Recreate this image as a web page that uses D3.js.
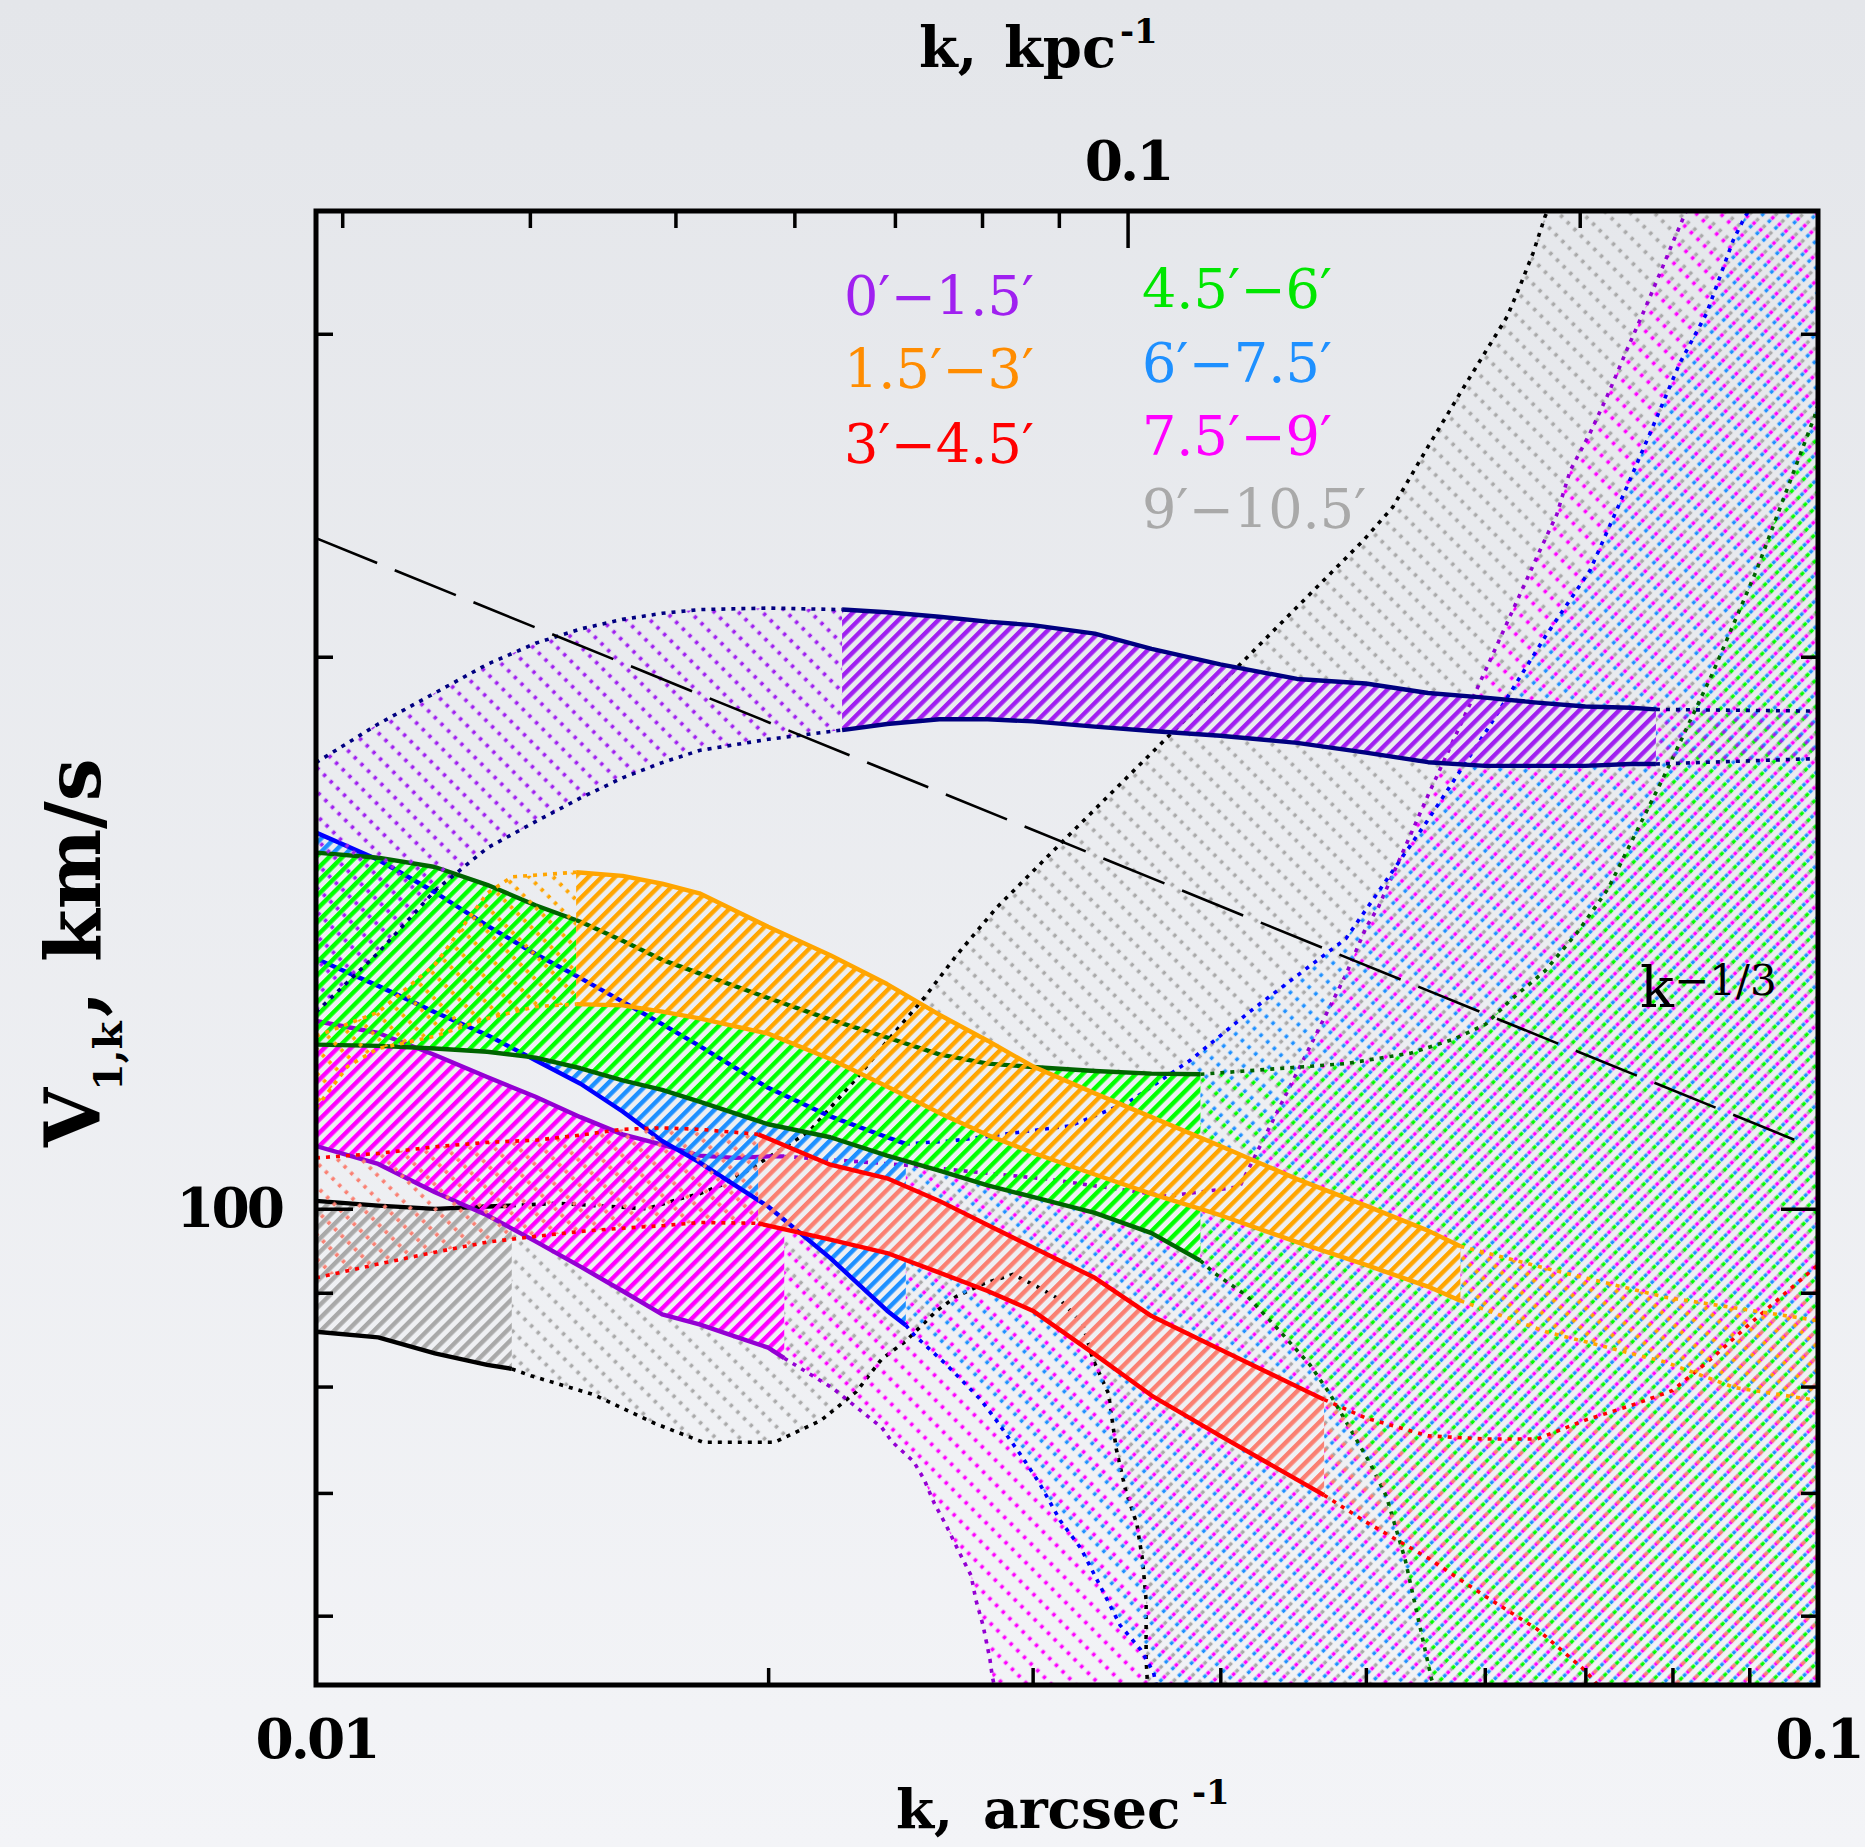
<!DOCTYPE html>
<html>
<head>
<meta charset="utf-8">
<script src="https://cdn.jsdelivr.net/npm/d3@7"></script>
<style>
  html, body { margin: 0; padding: 0; background: #eceef1; }
  svg { display: block; }
</style>
</head>
<body>
<svg id="chart" width="1865" height="1847"></svg>
<script>
// ---- data: V(k) bands per annulus, k in arcsec^-1, V in km/s ----
const bandNames = ['0′−1.5′', '1.5′−3′', '3′−4.5′', '4.5′−6′', '6′−7.5′', '7.5′−9′', '9′−10.5′'];

// 0'-1.5'
const purpleK  = [0.0224, 0.024, 0.026, 0.028, 0.03, 0.033, 0.036, 0.04, 0.045, 0.05, 0.055, 0.06, 0.065, 0.07, 0.075, 0.078];
const purpleHi = [212.2, 211.5, 210.3, 209.0, 208.1, 205.9, 202.0, 198.1, 194.5, 193.4, 191.1, 190.0, 188.8, 187.9, 187.6, 187.2];
const purpleLo = [182.4, 183.8, 184.9, 184.9, 184.4, 183.2, 182.2, 181.1, 179.5, 177.3, 175.2, 174.4, 174.4, 174.4, 174.8, 174.8];
const purpleLeftK  = [0.01, 0.011, 0.012, 0.013, 0.014, 0.015, 0.016, 0.017, 0.018, 0.02, 0.0224];
const purpleLeftHi = [175.1, 183.8, 191.1, 198.1, 203.4, 207.1, 209.6, 211.2, 212.2, 212.6, 212.2];
const purpleLeftLo = [128.0, 137.9, 149.1, 157.3, 162.6, 167.5, 171.8, 175.1, 177.8, 180.3, 182.4];
const purpleRightK  = [0.078, 0.1];
const purpleRightHi = [187.2, 186.8];
const purpleRightLo = [174.8, 176.0];

// 1.5'-3'
const orangeK  = [0.0149, 0.016, 0.017, 0.018, 0.02, 0.022, 0.024, 0.026, 0.028, 0.03, 0.033, 0.036, 0.04, 0.045, 0.05, 0.055, 0.0578];
const orangeHi = [152.6, 151.9, 150.4, 148.6, 142.5, 137.5, 132.6, 127.6, 123.5, 119.6, 115.6, 112.2, 108.2, 103.8, 100.4, 97.3, 95.4];
const orangeLo = [129.3, 129.1, 128.1, 127.0, 124.6, 120.7, 116.6, 112.8, 109.7, 107.3, 104.4, 101.9, 99.2, 95.9, 93.2, 90.7, 89.1];
const orangeLeftHiK = [0.01, 0.011, 0.012, 0.013, 0.0135, 0.0149];
const orangeLeftHi  = [124.2, 128.0, 135.9, 148.6, 151.7, 152.6];
const orangeLeftLoK = [0.01, 0.0105, 0.011, 0.012, 0.013, 0.014, 0.0149];
const orangeLeftLo  = [113.5, 119.6, 122.3, 124.2, 127.0, 128.9, 129.3];
const orangeRightHiK = [0.0578, 0.0659, 0.0791, 0.1];
const orangeRightHi  = [95.4, 92.8, 89.5, 86.9];
const orangeRightLoK = [0.0578, 0.0659, 0.0791, 0.088, 0.1];
const orangeRightLo  = [89.1, 85.7, 82.5, 79.9, 78.6];

// 3'-4.5'
const redK  = [0.0197, 0.022, 0.024, 0.026, 0.028, 0.03, 0.033, 0.036, 0.04, 0.0469];
const redHi = [109.8, 105.7, 103.9, 101.0, 98.0, 95.3, 91.7, 87.4, 83.8, 78.7];
const redLo = [98.2, 96.2, 94.6, 92.3, 90.2, 88.0, 83.3, 79.1, 75.2, 69.8];
const redLeftK  = [0.01, 0.011, 0.012, 0.013, 0.014, 0.015, 0.016, 0.017, 0.018, 0.0197];
const redLeftHi = [106.6, 107.2, 108.1, 108.7, 109.0, 109.7, 110.5, 110.7, 110.5, 109.8];
const redLeftLo = [91.7, 93.3, 94.7, 95.9, 96.6, 97.2, 97.6, 97.9, 98.3, 98.2];
const redRightHiK = [0.0469, 0.05, 0.055, 0.06, 0.065, 0.07, 0.075, 0.08, 0.085, 0.09, 0.1];
const redRightHi  = [78.7, 76.9, 75.2, 74.9, 74.9, 76.7, 78.1, 79.6, 82.9, 86.5, 93.2];
const redRightLoK = [0.0469, 0.05, 0.055, 0.06, 0.065, 0.07, 0.072];
const redRightLo  = [69.8, 67.5, 64.5, 61.5, 59.0, 56.0, 54.5];

// 4.5'-6'
const greenK  = [0.01, 0.011, 0.012, 0.013, 0.014, 0.015, 0.016, 0.017, 0.018, 0.02, 0.022, 0.024, 0.026, 0.028, 0.03, 0.033, 0.036, 0.0388];
const greenHi = [156.4, 155.4, 153.6, 150.2, 146.4, 143.4, 140.0, 136.7, 134.4, 130.3, 126.8, 124.0, 121.4, 120.0, 119.5, 118.9, 118.5, 118.4];
const greenLo = [122.9, 122.7, 122.3, 121.8, 120.9, 119.3, 117.5, 116.1, 114.4, 111.2, 109.4, 106.9, 104.9, 103.0, 101.5, 99.5, 97.0, 93.7];
const greenRightHiK = [0.0388, 0.0485, 0.0536, 0.0573, 0.0601, 0.0625, 0.0658, 0.0692, 0.0725, 0.0791, 0.0851, 0.091, 0.0994, 0.1];
const greenRightHi  = [118.4, 120.0, 121.6, 123.8, 126.1, 130.1, 134.8, 141.6, 149.5, 172.6, 196.0, 222.9, 270.0, 274.4];
const greenRightLoK = [0.0388, 0.0396, 0.0417, 0.0438, 0.0459, 0.0473, 0.0488, 0.0503, 0.0516, 0.0531, 0.054, 0.0548, 0.0553, 0.056];
const greenRightLo  = [93.7, 92.3, 89.6, 85.8, 82.2, 79.3, 75.9, 72.7, 69.7, 64.4, 60.5, 57.3, 55.4, 54.0];

// 6'-7.5'
const blueK  = [0.01, 0.011, 0.012, 0.013, 0.014, 0.015, 0.016, 0.017, 0.018, 0.02, 0.022, 0.024, 0.0247];
const blueHi = [160.4, 155.0, 148.8, 142.7, 137.7, 133.6, 129.7, 126.1, 122.7, 116.4, 112.3, 109.4, 108.5];
const blueLo = [136.9, 132.3, 128.0, 124.4, 120.5, 117.0, 113.0, 108.9, 106.0, 100.3, 94.0, 88.0, 86.4];
const blueRightHiK = [0.0247, 0.0265, 0.0318, 0.0348, 0.0382, 0.0418, 0.0485, 0.0549, 0.0602, 0.0658, 0.0705, 0.0746, 0.0773, 0.0809, 0.0843, 0.0878, 0.0894, 0.0902];
const blueRightHi  = [108.5, 108.9, 111.0, 114.4, 120.5, 128.0, 140.4, 162.6, 182.4, 205.0, 222.9, 247.5, 264.8, 289.1, 307.8, 337.3, 347.5, 351.2];
const blueRightLoK = [0.0247, 0.025, 0.0263, 0.0277, 0.0284, 0.0295, 0.0303, 0.0313, 0.0323, 0.0333, 0.0343, 0.0354, 0.0361, 0.0365];
const blueRightLo  = [86.4, 85.4, 82.2, 78.7, 76.6, 73.3, 70.9, 67.6, 65.3, 62.2, 59.3, 57.5, 55.9, 53.7];

// 7.5'-9'
const magentaK  = [0.01, 0.011, 0.012, 0.013, 0.014, 0.015, 0.016, 0.017, 0.018, 0.019, 0.02, 0.0205];
const magentaHi = [126.6, 124.7, 121.3, 118.0, 115.1, 112.2, 109.8, 108.4, 106.9, 106.6, 106.8, 106.8];
const magentaLo = [108.2, 105.8, 102.1, 99.2, 96.0, 93.0, 90.2, 87.6, 86.5, 85.2, 84.0, 82.9];
const magentaRightHiK = [0.0205, 0.0245, 0.0307, 0.0369, 0.0412, 0.045, 0.0485, 0.05, 0.051, 0.0549, 0.0602, 0.0653, 0.067, 0.0684, 0.0705, 0.0725, 0.0746, 0.0766, 0.0787, 0.0801, 0.0816, 0.0825];
const magentaRightHi  = [106.8, 105.7, 103.8, 101.6, 102.8, 118.7, 134.2, 142.3, 146.2, 167.5, 197.4, 228.6, 239.1, 252.7, 264.8, 278.2, 294.0, 308.8, 325.4, 336.9, 349.1, 356.0];
const magentaRightLoK = [0.0205, 0.0221, 0.0238, 0.0242, 0.025, 0.0254, 0.0258, 0.0263, 0.0268, 0.0273, 0.0275, 0.0278, 0.0281, 0.0282, 0.0284];
const magentaRightLo  = [82.9, 79.8, 76.0, 74.6, 72.8, 71.2, 69.1, 67.1, 65.0, 63.1, 61.2, 59.3, 56.8, 55.6, 54.1];

// 9'-10.5'
const grayK  = [0.01, 0.011, 0.012, 0.013, 0.0135];
const grayHi = [101.0, 100.4, 100.0, 100.3, 100.4];
const grayLo = [85.7, 85.1, 83.4, 82.2, 81.8];
const grayRightHiK = [0.0135, 0.0145, 0.0166, 0.0175, 0.018, 0.0186, 0.0193, 0.0213, 0.0229, 0.0242, 0.0254, 0.0267, 0.0284, 0.0318, 0.0382, 0.0458, 0.0498, 0.0521, 0.0549, 0.058, 0.0621, 0.0633, 0.0646, 0.0658, 0.0662];
const grayRightHi  = [100.4, 100.7, 100.0, 101.3, 101.9, 103.0, 104.7, 110.2, 117.8, 124.4, 130.3, 137.5, 146.0, 160.2, 186.0, 216.0, 231.4, 241.3, 259.7, 279.9, 306.6, 318.3, 331.9, 347.5, 351.2];
const grayRightLoK = [0.0135, 0.0139, 0.0153, 0.0168, 0.0181, 0.0202, 0.0217, 0.0229, 0.0238, 0.0247, 0.0259, 0.0267, 0.0278, 0.0291, 0.0302, 0.0313, 0.0324, 0.0329, 0.0337, 0.0341, 0.0346, 0.0352, 0.0355, 0.0357, 0.0357, 0.0358];
const grayRightLo  = [81.8, 81.1, 79.2, 76.4, 74.6, 74.6, 76.7, 79.5, 82.8, 84.7, 88.0, 89.6, 91.0, 92.1, 90.7, 89.2, 86.5, 82.8, 79.3, 74.0, 70.2, 67.3, 64.4, 61.2, 56.8, 54.5];

// k^-1/3 reference line end points
const refK = [0.01, 0.0985];
const refV = [232.1, 108.3];

// tick values
const bottomMinor = [0.02, 0.03, 0.04, 0.05, 0.06, 0.07, 0.08, 0.09];
const bottomLabels = [0.01, 0.1];
const topMinor = [0.03, 0.04, 0.05, 0.06, 0.07, 0.08, 0.09, 0.2];
const topMajor = [0.1];
const sideMinor = [60, 70, 80, 90, 200, 300];
const sideMajor = [100];
const kpcPerArcsec = 0.347;

// ---- styling ----
const hatchColors  = ['#a020f0', '#ffa500', '#fa8072', '#00ff00', '#1e90ff', '#ff00ff', '#a9a9a9'];
const lineColors   = ['#000080', '#ffa500', '#ff0000', '#006400', '#0000ff', '#9400d3', '#000000'];
const legendColors = ['#a020f0', '#ff8c00', '#ff0000', '#00e600', '#1e90ff', '#ff00ff', '#a9a9a9'];
const dotPhase     = [2.4, 7.2, 12, 0, 4.8, 9.6, 14.4];

const W = 1865, H = 1847;
const X0 = 316, X1 = 1818, Y0 = 211, Y1 = 1685;
const serif = 'DejaVu Serif';

const svg = d3.select('#chart');
const defs = svg.append('defs');

const x = d3.scaleLog().domain([0.01, 0.1]).range([X0, X1]);
const y = d3.scaleLog().domain([55, 350]).range([Y1, Y0]);
const xTop = d3.scaleLog().domain([0.01 / kpcPerArcsec, 0.1 / kpcPerArcsec]).range([X0, X1]);

// background
const bg = defs.append('linearGradient').attr('id', 'bg')
  .attr('gradientUnits', 'userSpaceOnUse')
  .attr('x1', 0).attr('y1', 0).attr('x2', 0).attr('y2', H);
bg.append('stop').attr('offset', 0).attr('stop-color', '#e4e6ea');
bg.append('stop').attr('offset', 1).attr('stop-color', '#f3f4f7');
svg.append('rect').attr('width', W).attr('height', H).attr('fill', 'url(#bg)');

// shading patterns (45 deg lines)
const D = 9.4;   // distance between shading lines
const P = 17;    // repeat of the dots along a dotted line
hatchColors.forEach((c, i) => {
  const h = defs.append('pattern').attr('id', 'hatch' + i)
    .attr('patternUnits', 'userSpaceOnUse')
    .attr('width', 10).attr('height', D)
    .attr('patternTransform', 'rotate(-45)');
  h.append('rect').attr('x', 0).attr('y', 0).attr('width', 10).attr('height', 4.4).attr('fill', c);

  const p = defs.append('pattern').attr('id', 'dots' + i)
    .attr('patternUnits', 'userSpaceOnUse')
    .attr('width', P).attr('height', D)
    .attr('patternTransform', 'rotate(-45)');
  [dotPhase[i], dotPhase[i] - P].forEach(px => {
    p.append('rect').attr('x', px).attr('y', 5.2).attr('width', 3.8).attr('height', 3.4).attr('fill', c);
  });
});

const zip = (ks, vs) => ks.map((k, i) => [k, vs[i]]);

const bands = [
  { solid: { hi: zip(purpleK, purpleHi), lo: zip(purpleK, purpleLo) },
    ext: [ { hi: zip(purpleLeftK, purpleLeftHi), lo: zip(purpleLeftK, purpleLeftLo) },
           { hi: zip(purpleRightK, purpleRightHi), lo: zip(purpleRightK, purpleRightLo) } ] },
  { solid: { hi: zip(orangeK, orangeHi), lo: zip(orangeK, orangeLo) },
    ext: [ { hi: zip(orangeLeftHiK, orangeLeftHi), lo: zip(orangeLeftLoK, orangeLeftLo) },
           { hi: zip(orangeRightHiK, orangeRightHi), lo: zip(orangeRightLoK, orangeRightLo) } ] },
  { solid: { hi: zip(redK, redHi), lo: zip(redK, redLo) },
    ext: [ { hi: zip(redLeftK, redLeftHi), lo: zip(redLeftK, redLeftLo) },
           { hi: zip(redRightHiK, redRightHi), lo: zip(redRightLoK, redRightLo), corners: ['br'] } ] },
  { solid: { hi: zip(greenK, greenHi), lo: zip(greenK, greenLo) },
    ext: [ { hi: zip(greenRightHiK, greenRightHi), lo: zip(greenRightLoK, greenRightLo), corners: ['br'] } ] },
  { solid: { hi: zip(blueK, blueHi), lo: zip(blueK, blueLo) },
    ext: [ { hi: zip(blueRightHiK, blueRightHi), lo: zip(blueRightLoK, blueRightLo), corners: ['tr', 'br'] } ] },
  { solid: { hi: zip(magentaK, magentaHi), lo: zip(magentaK, magentaLo) },
    ext: [ { hi: zip(magentaRightHiK, magentaRightHi), lo: zip(magentaRightLoK, magentaRightLo), corners: ['tr', 'br'] } ] },
  { solid: { hi: zip(grayK, grayHi), lo: zip(grayK, grayLo) },
    ext: [ { hi: zip(grayRightHiK, grayRightHi), lo: zip(grayRightLoK, grayRightLo), corners: ['tr', 'br'] } ] }
];

const line = d3.line().x(d => x(d[0])).y(d => y(d[1]));
const cornerPts = { tr: [0.12, 420], br: [0.12, 48] };
function regionPath(r) {
  const pts = r.hi.concat((r.corners || []).map(c => cornerPts[c]), r.lo.slice().reverse());
  return line(pts) + 'Z';
}

// masks: a band's shading is hidden under the solid regions of the bands drawn after it
bands.forEach((b, i) => {
  const m = defs.append('mask').attr('id', 'mask' + i)
    .attr('maskUnits', 'userSpaceOnUse')
    .attr('x', 0).attr('y', 0).attr('width', W).attr('height', H);
  m.append('rect').attr('width', W).attr('height', H).attr('fill', '#fff');
  bands.slice(0, i).forEach(o => m.append('path').attr('d', regionPath(o.solid)).attr('fill', '#000'));
});

defs.append('clipPath').attr('id', 'plotClip')
  .append('rect').attr('x', X0).attr('y', Y0).attr('width', X1 - X0).attr('height', Y1 - Y0);

const plot = svg.append('g').attr('clip-path', 'url(#plotClip)');

// draw from the outermost annulus to the innermost
for (let i = bands.length - 1; i >= 0; i--) {
  const b = bands[i];
  const g = plot.append('g');
  const shade = g.append('g').attr('mask', `url(#mask${i})`);
  b.ext.forEach(r => {
    shade.append('path').attr('d', regionPath(r)).attr('fill', `url(#dots${i})`);
  });
  shade.append('path').attr('d', regionPath(b.solid)).attr('fill', `url(#hatch${i})`);

  b.ext.forEach(r => {
    [r.hi, r.lo].forEach(pts => {
      g.append('path').attr('d', line(pts))
        .attr('fill', 'none').attr('stroke', lineColors[i])
        .attr('stroke-width', 3.6).attr('stroke-dasharray', '4 6');
    });
  });
  [b.solid.hi, b.solid.lo].forEach(pts => {
    g.append('path').attr('d', line(pts))
      .attr('fill', 'none').attr('stroke', lineColors[i])
      .attr('stroke-width', 4.4).attr('stroke-linejoin', 'round');
  });
}

// k^-1/3 reference
plot.append('path').attr('d', line(zip(refK, refV)))
  .attr('fill', 'none').attr('stroke', '#000').attr('stroke-width', 2.6)
  .attr('stroke-dasharray', '66 19');

const refLabel = svg.append('text').attr('x', 1640).attr('y', 1007)
  .attr('font-family', serif).attr('font-size', 56).attr('fill', '#000');
refLabel.append('tspan').text('k');
refLabel.append('tspan').attr('font-size', 42).attr('dy', -12).text('−1/3');

// ---- axes ----
function styleAxis(g) {
  g.select('.domain').remove();
  g.selectAll('line').attr('stroke', '#000').attr('stroke-width', 3.5);
  g.selectAll('text').attr('font-family', serif).attr('font-weight', 'bold')
    .attr('font-size', 55).attr('letter-spacing', -3).attr('fill', '#000');
}

svg.append('g').attr('transform', `translate(0,${Y1})`)
  .call(d3.axisBottom(x).tickValues(bottomMinor).tickSize(-17).tickFormat(''))
  .call(styleAxis);
svg.append('g').attr('transform', `translate(0,${Y1})`)
  .call(d3.axisBottom(x).tickValues(bottomLabels).tickSize(0).tickPadding(34).tickFormat(d => String(d)))
  .call(styleAxis);

svg.append('g').attr('transform', `translate(0,${Y0})`)
  .call(d3.axisTop(xTop).tickValues(topMinor).tickSize(-17).tickFormat(''))
  .call(styleAxis);
svg.append('g').attr('transform', `translate(0,${Y0})`)
  .call(d3.axisTop(xTop).tickValues(topMajor).tickSize(-37).tickPadding(31).tickFormat(d => String(d)))
  .call(styleAxis);

svg.append('g').attr('transform', `translate(${X0},0)`)
  .call(d3.axisLeft(y).tickValues(sideMinor).tickSize(-17).tickFormat(''))
  .call(styleAxis);
svg.append('g').attr('transform', `translate(${X0},0)`)
  .call(d3.axisLeft(y).tickValues(sideMajor).tickSize(-37).tickPadding(34).tickFormat(d => String(d)))
  .call(styleAxis);

svg.append('g').attr('transform', `translate(${X1},0)`)
  .call(d3.axisRight(y).tickValues(sideMinor).tickSize(-17).tickFormat(''))
  .call(styleAxis);
svg.append('g').attr('transform', `translate(${X1},0)`)
  .call(d3.axisRight(y).tickValues(sideMajor).tickSize(-37).tickFormat(''))
  .call(styleAxis);

// frame
svg.append('rect').attr('x', X0).attr('y', Y0).attr('width', X1 - X0).attr('height', Y1 - Y0)
  .attr('fill', 'none').attr('stroke', '#000').attr('stroke-width', 5);

// ---- titles ----
const topTitle = svg.append('text').attr('y', 67)
  .attr('font-family', serif).attr('font-weight', 'bold').attr('font-size', 56).attr('fill', '#000');
topTitle.append('tspan').attr('x', 919).text('k,');
topTitle.append('tspan').attr('x', 1004).text('kpc');
topTitle.append('tspan').attr('x', 1120).attr('dy', -24).attr('font-size', 34).text('-1');

const bottomTitle = svg.append('text').attr('y', 1828)
  .attr('font-family', serif).attr('font-weight', 'bold').attr('font-size', 55).attr('fill', '#000');
bottomTitle.append('tspan').attr('x', 896).text('k,');
bottomTitle.append('tspan').attr('x', 983).text('arcsec');
bottomTitle.append('tspan').attr('x', 1192).attr('dy', -24).attr('font-size', 34).text('-1');

const yTitle = svg.append('text').attr('transform', 'translate(100,1147) rotate(-90)')
  .attr('font-family', serif).attr('font-weight', 'bold').attr('font-size', 76).attr('fill', '#000');
yTitle.append('tspan').attr('x', 0).attr('y', 0).text('V');
yTitle.append('tspan').attr('x', 56).attr('y', 22).attr('font-size', 40).text('1,k');
yTitle.append('tspan').attr('x', 130).attr('y', 0).text(',');
yTitle.append('tspan').attr('x', 185).attr('y', 0).text('km/s');

// ---- legend ----
const legendX = [844, 844, 844, 1142, 1142, 1142, 1142];
const legendY = [315, 388, 463, 308, 382, 455, 528];
svg.append('g').selectAll('text').data(bandNames).enter().append('text')
  .attr('x', (d, i) => legendX[i]).attr('y', (d, i) => legendY[i])
  .attr('font-family', serif).attr('font-size', 54)
  .attr('fill', (d, i) => legendColors[i])
  .text(d => d);
</script>
</body>
</html>
